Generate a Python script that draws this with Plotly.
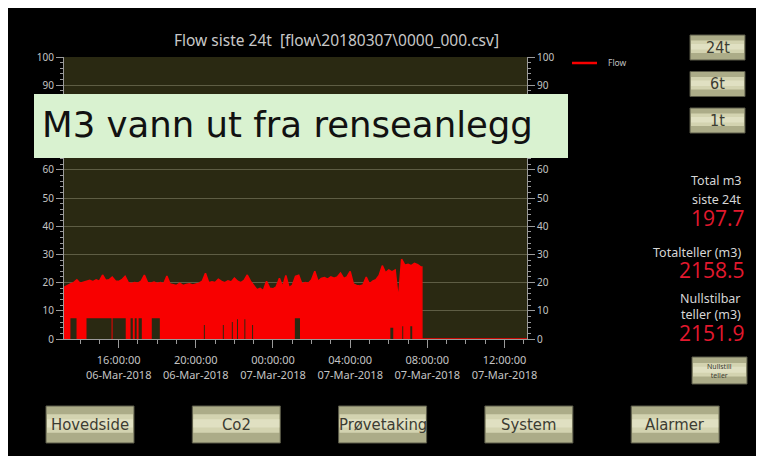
import pandas as pd
import plotly.graph_objects as go

# ---------------- data ----------------
flow_start = "2018-03-06 13:10"
flow_step = "10min"
# upper envelope of the flow signal (m3/h), one value per 10 minutes
flow_max = [18.3, 19, 19.5, 20, 21, 19.8, 20.2, 20.5, 20.8, 20.3,
            21, 20.5, 22.7, 20.8, 21, 22, 20.6, 20.4, 21, 22.2,
            20, 19.7, 20, 19.8, 20.5, 22.7, 20, 19.8, 20.2, 19.7,
            20, 19.6, 22.3, 19.5, 19.2, 19, 19.8, 19, 19.3, 19.6,
            19.2, 19.5, 19.8, 20.5, 23.3, 20, 20.3, 20, 21.2, 20.4,
            20, 20.6, 20.2, 21.6, 20.5, 20, 20.8, 22.7, 20.5, 19,
            17.5, 18, 17.2, 20.5, 18, 17.8, 18.5, 21.5, 18.5, 22.5,
            18.2, 19, 22.2, 22.6, 19.5, 20, 19.8, 21, 24, 20.5,
            21.5, 21.8, 21.2, 22, 21.6, 22, 23.4, 21.5, 22, 24,
            19.5, 19, 18.8, 19.2, 22, 19.5, 20.5, 21, 22.5, 26,
            23.5, 24.5, 23.8, 24.5, 13.8, 28.3, 26.2, 26.5, 26, 26.8,
            26.4, 25.5]
flow_tail_times = ["2018-03-07 07:43", "2018-03-07 07:43", "2018-03-07 13:10"]
flow_tail_vals = [25.5, 0, 0]

# lower envelope of the flow signal (step changes)
flow_min_times = ["2018-03-06 13:10", "2018-03-06 13:30", "2018-03-06 13:49",
                  "2018-03-06 14:20", "2018-03-06 15:38", "2018-03-06 15:41",
                  "2018-03-06 16:22", "2018-03-06 16:37", "2018-03-06 16:44",
                  "2018-03-06 16:50", "2018-03-06 16:56", "2018-03-06 17:02",
                  "2018-03-06 17:12", "2018-03-06 17:43", "2018-03-06 18:08",
                  "2018-03-06 20:25", "2018-03-06 20:28", "2018-03-06 21:24",
                  "2018-03-06 21:27", "2018-03-06 21:52", "2018-03-06 21:55",
                  "2018-03-06 22:08", "2018-03-06 22:11", "2018-03-06 22:31",
                  "2018-03-06 22:34", "2018-03-06 22:55", "2018-03-06 22:58",
                  "2018-03-07 01:08", "2018-03-07 01:24", "2018-03-07 06:05",
                  "2018-03-07 06:14", "2018-03-07 06:42", "2018-03-07 06:45",
                  "2018-03-07 07:07", "2018-03-07 07:13", "2018-03-07 13:10"]
flow_min_vals = [0, 7.4, 0,
                 7.4, 0, 7.4,
                 0, 7.4, 0,
                 7.4, 0, 7.4,
                 0, 7.4, 0,
                 5, 0, 5,
                 0, 6, 0,
                 7, 0, 7,
                 0, 5, 0,
                 7.4, 0, 4,
                 0, 4.5, 0,
                 4.5, 0, 0]

x_range = ["2018-03-06 13:10", "2018-03-07 13:10"]
x_tickvals = ["2018-03-06 16:00", "2018-03-06 20:00", "2018-03-07 00:00",
              "2018-03-07 04:00", "2018-03-07 08:00", "2018-03-07 12:00"]
x_ticktext = ["16:00:00<br>06-Mar-2018", "20:00:00<br>06-Mar-2018",
              "00:00:00<br>07-Mar-2018", "04:00:00<br>07-Mar-2018",
              "08:00:00<br>07-Mar-2018", "12:00:00<br>07-Mar-2018"]
# y tick labels (70 and 80 are hidden behind the banner in the original)
y_tickvals = [0, 10, 20, 30, 40, 50, 60, 70, 80, 90, 100]
y_ticktext = ["0", "10", "20", "30", "40", "50", "60", "", "", "90", "100"]

title_text = "Flow siste 24t\u00a0\u00a0[flow\\20180307\\0000_000.csv]"
banner_text = "M3 vann ut fra renseanlegg"
range_buttons = ["24t", "6t", "1t"]
nav_buttons = ["Hovedside", "Co2", "Prøvetaking", "System", "Alarmer"]
panel_labels = ["Total m3", "siste 24t", "Totalteller (m3)", "Nullstilbar", "teller (m3)"]
panel_values = ["197.7", "2158.5", "2151.9"]

# ---------------- figure ----------------
W, H = 764, 456
OFF = 8  # page margin of the rendered html page
def px(x):
    return (x - OFF) / W
def py(y):
    return 1 - (y - OFF) / H

flow_times = list(pd.date_range(flow_start, periods=len(flow_max), freq=flow_step)) + \
    [pd.Timestamp(t) for t in flow_tail_times]
flow_vals = flow_max + flow_tail_vals

RED = "#f80000"
fig = go.Figure()
fig.add_trace(go.Scatter(x=pd.to_datetime(flow_min_times), y=flow_min_vals, mode="lines",
                         line=dict(color=RED, width=0, shape="hv"), showlegend=False,
                         hoverinfo="skip"))
fig.add_trace(go.Scatter(x=flow_times, y=flow_vals, mode="lines", name="Flow",
                         line=dict(color=RED, width=1.5), fill="tonexty",
                         fillcolor=RED, showlegend=False))

AX = "#9a9a9a"
TICKF = dict(family="Noto Sans, sans-serif", size=10, color="#c4c4c4")
yax_common = dict(range=[0, 100], tickmode="array", tickvals=y_tickvals, ticktext=y_ticktext,
                  ticks="outside", ticklen=7, tickcolor=AX,
                  showline=True, linecolor=AX, linewidth=1, zeroline=False,
                  tickfont=TICKF, fixedrange=True, automargin=False,
                  minor=dict(ticks="outside", ticklen=3, dtick=2, tick0=0,
                             tickcolor=AX, showgrid=False))

fig.update_layout(
    width=W, height=H, margin=dict(l=0, r=0, t=0, b=0, pad=0, autoexpand=False),
    autosize=False,
    paper_bgcolor="#000000", plot_bgcolor="#2a2912",
    showlegend=False,
    xaxis=dict(domain=[px(64), px(527)], type="date", range=x_range,
               tickmode="array", tickvals=x_tickvals, ticktext=x_ticktext,
               ticks="outside", ticklen=8, tickcolor=AX, showgrid=False,
               showline=True, linecolor=AX, zeroline=False, anchor="y",
               ticklabelstandoff=3, automargin=False,
               tickfont=dict(family="Noto Sans, sans-serif", size=11, color="#c4c4c4"),
               minor=dict(ticks="outside", ticklen=4, dtick=3600000,
                          tick0="2018-03-06 00:00", tickcolor=AX, showgrid=False)),
    yaxis=dict(domain=[py(339), py(57)], anchor="x", side="left",
               showgrid=True, gridcolor="#5e5d44", gridwidth=1, **yax_common),
    yaxis2=dict(overlaying="y", anchor="x", side="right", showgrid=False, **yax_common),
)
# dummy trace to show right axis
fig.add_trace(go.Scatter(x=[x_range[0]], y=[None], yaxis="y2", showlegend=False,
                         hoverinfo="skip"))

shapes = []
annotations = []

# title
annotations.append(dict(x=px(336), y=py(40), xref="paper", yref="paper", text=title_text,
                        showarrow=False, xanchor="center", yanchor="middle",
                        font=dict(family="Noto Sans, sans-serif", size=15.5, color="#c8c8c8")))

# legend
shapes.append(dict(type="line", xref="paper", yref="paper", x0=px(572), x1=px(597),
                   y0=py(63), y1=py(63), line=dict(color=RED, width=2.5)))
annotations.append(dict(x=px(606), y=py(63), xref="paper", yref="paper", text="Flow",
                        showarrow=False, xanchor="left", yanchor="middle",
                        font=dict(family="Noto Sans, sans-serif", size=8.5, color="#c0c0c0")))

def button(x0, y0, x1, y1, text, size, family="Liberation Sans Narrow, DejaVu Sans Condensed, Roboto, sans-serif"):
    shapes.append(dict(type="rect", xref="paper", yref="paper", x0=px(x0), x1=px(x1),
                       y0=py(y1), y1=py(y0), fillcolor="#acac88",
                       line=dict(color="#5a5a48", width=1), layer="above"))
    h = y1 - y0
    shapes.append(dict(type="rect", xref="paper", yref="paper", x0=px(x0 + 1), x1=px(x1 - 1),
                       y0=py(y0 + h * 0.72), y1=py(y0 + h * 0.22), fillcolor="#d3d3b0",
                       line=dict(width=0), layer="above"))
    shapes.append(dict(type="rect", xref="paper", yref="paper", x0=px(x0 + 1), x1=px(x1 - 1),
                       y0=py(y0 + h * 0.58), y1=py(y0 + h * 0.36), fillcolor="#e0e0c2",
                       line=dict(width=0), layer="above"))
    annotations.append(dict(x=px((x0 + x1) / 2), y=py((y0 + y1) / 2), xref="paper",
                            yref="paper", text=text, showarrow=False, xanchor="center",
                            yanchor="middle",
                            font=dict(family=family, size=size, color="#3c3c32")))

# range buttons on the right
for i, t in enumerate(range_buttons):
    y0 = 35 + i * 36.5
    button(690, y0, 745, y0 + 25, t, 16)

# bottom navigation buttons
for i, t in enumerate(nav_buttons):
    x0 = 46 + i * 146.3
    button(x0, 406, x0 + 88, 443, t, 16.5)

# reset button
button(692, 357, 747, 384, "Nullstill<br>teller", 7, family="Noto Sans, sans-serif")

# right panel text
LBL = dict(family="Noto Sans, sans-serif", size=12.5, color="#d6d6d6")
VAL = dict(family="Open Sans, sans-serif", size=21, color="#e3192e")
label_y = [180, 199, 253, 298, 314]
for t, yy in zip(panel_labels, label_y):
    annotations.append(dict(x=px(743), y=py(yy), xref="paper", yref="paper", text=t,
                            showarrow=False, xanchor="right", yanchor="middle", font=LBL))
value_y = [218, 270, 333]
for t, yy in zip(panel_values, value_y):
    annotations.append(dict(x=px(747), y=py(yy), xref="paper", yref="paper", text=t,
                            showarrow=False, xanchor="right", yanchor="middle", font=VAL))

# banner
shapes.append(dict(type="rect", xref="paper", yref="paper", x0=px(34), x1=px(568),
                   y0=py(158), y1=py(94), fillcolor="#d9f2d0", line=dict(width=0),
                   layer="above"))
annotations.append(dict(x=px(40), y=py(125), xref="paper", yref="paper", text=banner_text,
                        showarrow=False, xanchor="left", yanchor="middle",
                        font=dict(family="DejaVu Sans, sans-serif", size=35.5, color="#111111")))

fig.update_layout(shapes=shapes, annotations=annotations)
fig.write_html("out.html")
